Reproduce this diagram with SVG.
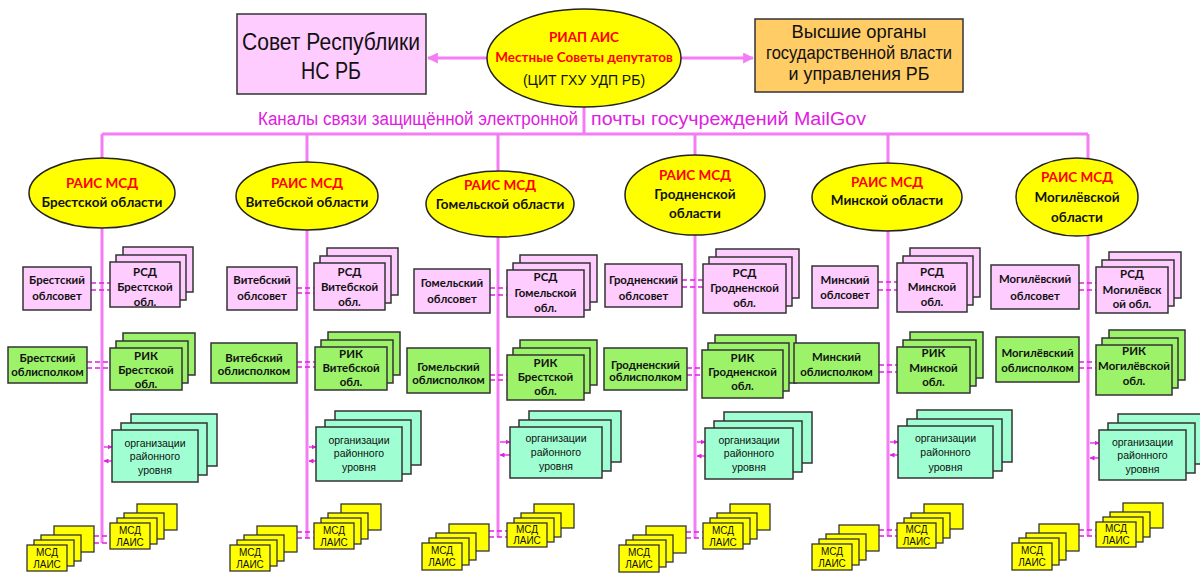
<svg xmlns="http://www.w3.org/2000/svg" width="1200" height="574" viewBox="0 0 1200 574">
<defs>
<style>
.ln{stroke:#F47CF4;stroke-width:3;fill:none}
.cn{stroke:#E020E0;stroke-width:1.6;stroke-dasharray:5 3;fill:none}
.ar{stroke:#E020E0;stroke-width:1.3;fill:none;marker-end:url(#sa)}
.al{stroke:#F47CF4;stroke-width:3;fill:none;marker-end:url(#ba)}
.el{fill:#FFFF00;stroke:#222;stroke-width:1.5}
.pk rect{fill:#FFCCFF;stroke:#333;stroke-width:1.5}
.gr rect{fill:#9CF36A;stroke:#333;stroke-width:1.5}
.aq rect{fill:#9FFFD2;stroke:#333;stroke-width:1.5}
.ye rect{fill:#FFFF00;stroke:#333;stroke-width:1.3}
.or{fill:#FFCC66;stroke:#333;stroke-width:1.5}
text{text-anchor:middle;fill:#111}
.eh{font-family:Lato,"Liberation Sans",sans-serif;font-weight:bold;font-size:13.5px;fill:#FF0000}
.eb{font-family:Lato,"Liberation Sans",sans-serif;font-weight:bold;font-size:13.5px}
.bt{font-family:Lato,"Liberation Sans",sans-serif;font-weight:bold;font-size:11.4px}
.ot{font-family:"Liberation Sans",Arial,sans-serif;font-size:10.5px}
.mt{font-family:"Liberation Sans",Arial,sans-serif;font-size:10px}
.big{font-family:"Liberation Sans",Arial,sans-serif;font-size:24px}
.mid{font-family:"Liberation Sans",Arial,sans-serif;font-size:19px}
.ch{font-family:"Liberation Sans",Arial,sans-serif;font-size:18px;fill:#E020E0}
</style>
<marker id="ba" viewBox="0 0 10 10" refX="9" refY="5" markerWidth="11" markerHeight="11" markerUnits="userSpaceOnUse" orient="auto"><path d="M0,0 L10,5 L0,10 z" fill="#F47CF4"/></marker>
<marker id="sa" viewBox="0 0 10 10" refX="9" refY="5" markerWidth="5" markerHeight="5" markerUnits="userSpaceOnUse" orient="auto"><path d="M0,0 L10,5 L0,10 z" fill="#E020E0"/></marker>
</defs>
<rect width="1200" height="574" fill="#FFFFFF"/>

<g id="connectors">
<line class="al" x1="487" y1="58" x2="428" y2="58"/>
<line class="al" x1="681" y1="58" x2="753" y2="58"/>
<line class="ln" x1="584" y1="106" x2="584" y2="134"/>
<line class="ln" x1="102" y1="134" x2="1088" y2="134"/>
<line class="ln" x1="102" y1="134" x2="102" y2="543"/>
<line class="ln" x1="307" y1="134" x2="307" y2="538"/>
<line class="ln" x1="498" y1="134" x2="498" y2="537"/>
<line class="ln" x1="695" y1="134" x2="695" y2="538"/>
<line class="ln" x1="888" y1="134" x2="888" y2="536"/>
<line class="ln" x1="1088" y1="134" x2="1088" y2="536"/>
<!-- Brest -->
<path class="cn" d="M91,283H110M91,290H110M87,362H110M87,368H110M94,536H110M94,543H110"/>
<line class="ar" x1="104" y1="447" x2="112" y2="447"/><line class="ar" x1="112" y1="461" x2="104" y2="461"/>
<!-- Vitebsk -->
<path class="cn" d="M297,288H314M297,293H314M297,362H315M297,367H315M297,532H314M297,538H314"/>
<line class="ar" x1="309" y1="447" x2="316" y2="447"/><line class="ar" x1="316" y1="461" x2="309" y2="461"/>
<!-- Gomel -->
<path class="cn" d="M490,288H507M490,295H507M490,375H507M490,380H507M489,531H507M489,537H507"/>
<line class="ar" x1="500" y1="442" x2="510" y2="442"/><line class="ar" x1="510" y1="455" x2="500" y2="455"/>
<!-- Grodno -->
<path class="cn" d="M682,280H703M682,287H703M687,368H702M687,375H702M686,532H703M686,538H703"/>
<line class="ar" x1="697" y1="442" x2="705" y2="442"/><line class="ar" x1="705" y1="456" x2="697" y2="456"/>
<!-- Minsk -->
<path class="cn" d="M878,282H897M878,290H897M879,365H897M879,372H897M879,530H897M879,536H897"/>
<line class="ar" x1="890" y1="442" x2="898" y2="442"/><line class="ar" x1="898" y1="455" x2="890" y2="455"/>
<!-- Mogilev -->
<path class="cn" d="M1079,283H1096M1079,290H1096M1079,362H1096M1079,368H1096M1079,530H1096M1079,536H1096"/>
<line class="ar" x1="1090" y1="443" x2="1099" y2="443"/><line class="ar" x1="1099" y1="458" x2="1090" y2="458"/>
</g>

<text class="ch" x="578" y="125" style="text-anchor:end" textLength="320" lengthAdjust="spacingAndGlyphs">Каналы связи защищённой электронной</text>
<text class="ch" x="591" y="125" style="text-anchor:start" textLength="275" lengthAdjust="spacingAndGlyphs">почты госучреждений MailGov</text>

<g id="sovet">
<rect x="237" y="14" width="189" height="80" fill="#FFCCFF" stroke="#333" stroke-width="1.5"/>
<text class="big" x="331" y="50" textLength="178" lengthAdjust="spacingAndGlyphs">Совет Республики</text>
<text class="big" x="331" y="79" textLength="60" lengthAdjust="spacingAndGlyphs">НС РБ</text>
</g>
<g id="riap">
<ellipse class="el" cx="584" cy="58" rx="97" ry="49"/>
<text class="eh" x="584" y="42">РИАП  АИС</text>
<text class="eh" x="584" y="62">Местные Советы депутатов</text>
<text x="584" y="85" style="font-family:'Liberation Sans',Arial,sans-serif;font-size:14px">(ЦИТ ГХУ УДП РБ)</text>
</g>
<g id="vysshie">
<rect class="or" x="755" y="19" width="208" height="73"/>
<text class="mid" x="859" y="38" textLength="135" lengthAdjust="spacingAndGlyphs">Высшие органы</text>
<text class="mid" x="859" y="59" textLength="186" lengthAdjust="spacingAndGlyphs">государственной власти</text>
<text class="mid" x="859" y="80" textLength="141" lengthAdjust="spacingAndGlyphs">и управления РБ</text>
</g>

<!-- ===== Brest ===== -->
<g id="rais-brest"><ellipse class="el" cx="102" cy="193" rx="73" ry="35"/><text class="eh" x="102" y="188">РАИС МСД</text><text class="eb" x="102" y="207">Брестской области</text></g>
<g id="oblsovet-brest" class="pk"><rect x="23" y="267" width="68" height="43"/><text class="bt" x="57" y="284">Брестский</text><text class="bt" x="57" y="300">облсовет</text></g>
<g id="rsd-brest" class="pk"><rect x="123" y="247" width="70" height="45"/><rect x="116" y="255" width="70" height="45"/><rect x="110" y="262" width="70" height="45"/><text class="bt" x="145" y="276">РСД</text><text class="bt" x="145" y="291">Брестской</text><text class="bt" x="145" y="306">обл.</text></g>
<g id="oblisp-brest" class="gr"><rect x="8" y="347" width="79" height="36"/><text class="bt" x="47.5" y="362">Брестский</text><text class="bt" x="47.5" y="376">облисполком</text></g>
<g id="rik-brest" class="gr"><rect x="123" y="333" width="72" height="42"/><rect x="116" y="341" width="72" height="42"/><rect x="110" y="348" width="72" height="42"/><text class="bt" x="146" y="360">РИК</text><text class="bt" x="146" y="374">Брестской</text><text class="bt" x="146" y="388">обл.</text></g>
<g id="org-brest" class="aq"><rect x="131" y="414" width="86" height="52"/><rect x="121" y="423" width="86" height="52"/><rect x="112" y="430" width="86" height="52"/><text class="ot" x="155" y="447">организации</text><text class="ot" x="155" y="460">районного</text><text class="ot" x="155" y="474">уровня</text></g>
<g id="msd-r-brest" class="ye"><rect x="137" y="504" width="40" height="26"/><rect x="124" y="513" width="40" height="26"/><rect x="117" y="518" width="40" height="26"/><rect x="110" y="523" width="40" height="26"/><text class="mt" x="130" y="534">МСД</text><text class="mt" x="130" y="546">ЛАИС</text></g>
<g id="msd-l-brest" class="ye"><rect x="54" y="526" width="40" height="26"/><rect x="41" y="535" width="40" height="26"/><rect x="34" y="540" width="40" height="26"/><rect x="27" y="545" width="40" height="26"/><text class="mt" x="47" y="556">МСД</text><text class="mt" x="47" y="568">ЛАИС</text></g>

<!-- ===== Vitebsk ===== -->
<g id="rais-vitebsk"><ellipse class="el" cx="307" cy="196" rx="71" ry="34"/><text class="eh" x="307" y="188">РАИС МСД</text><text class="eb" x="307" y="207">Витебской области</text></g>
<g id="oblsovet-vitebsk" class="pk"><rect x="227" y="267" width="70" height="43"/><text class="bt" x="262" y="284">Витебский</text><text class="bt" x="262" y="300">облсовет</text></g>
<g id="rsd-vitebsk" class="pk"><rect x="327" y="248" width="71" height="47"/><rect x="320" y="256" width="71" height="47"/><rect x="314" y="263" width="71" height="47"/><text class="bt" x="349.5" y="276">РСД</text><text class="bt" x="349.5" y="291">Витебской</text><text class="bt" x="349.5" y="306">обл.</text></g>
<g id="oblisp-vitebsk" class="gr"><rect x="211" y="343" width="86" height="40"/><text class="bt" x="254" y="362">Витебский</text><text class="bt" x="254" y="375">облисполком</text></g>
<g id="rik-vitebsk" class="gr"><rect x="328" y="332" width="72" height="43"/><rect x="321" y="340" width="72" height="43"/><rect x="315" y="347" width="72" height="43"/><text class="bt" x="351" y="358">РИК</text><text class="bt" x="351" y="372">Витебской</text><text class="bt" x="351" y="386">обл.</text></g>
<g id="org-vitebsk" class="aq"><rect x="335" y="411" width="86" height="54"/><rect x="325" y="420" width="86" height="54"/><rect x="316" y="427" width="86" height="54"/><text class="ot" x="359" y="444">организации</text><text class="ot" x="359" y="457">районного</text><text class="ot" x="359" y="471">уровня</text></g>
<g id="msd-r-vitebsk" class="ye"><rect x="341" y="504" width="40" height="26"/><rect x="328" y="513" width="40" height="26"/><rect x="321" y="518" width="40" height="26"/><rect x="314" y="523" width="40" height="26"/><text class="mt" x="334" y="534">МСД</text><text class="mt" x="334" y="546">ЛАИС</text></g>
<g id="msd-l-vitebsk" class="ye"><rect x="257" y="526" width="40" height="26"/><rect x="244" y="535" width="40" height="26"/><rect x="237" y="540" width="40" height="26"/><rect x="230" y="545" width="40" height="26"/><text class="mt" x="250" y="556">МСД</text><text class="mt" x="250" y="568">ЛАИС</text></g>

<!-- ===== Gomel ===== -->
<g id="rais-gomel"><ellipse class="el" cx="500" cy="204" rx="74" ry="33"/><text class="eh" x="500" y="190">РАИС МСД</text><text class="eb" x="500" y="209">Гомельской области</text></g>
<g id="oblsovet-gomel" class="pk"><rect x="414" y="269" width="76" height="44"/><text class="bt" x="452" y="287">Гомельский</text><text class="bt" x="452" y="303">облсовет</text></g>
<g id="rsd-gomel" class="pk"><rect x="520" y="255" width="77" height="47"/><rect x="513" y="263" width="77" height="47"/><rect x="507" y="270" width="77" height="47"/><text class="bt" x="545.5" y="281">РСД</text><text class="bt" x="545.5" y="297">Гомельской</text><text class="bt" x="545.5" y="312">обл.</text></g>
<g id="oblisp-gomel" class="gr"><rect x="407" y="348" width="83" height="45"/><text class="bt" x="448.5" y="371">Гомельский</text><text class="bt" x="448.5" y="384">облисполком</text></g>
<g id="rik-gomel" class="gr"><rect x="520" y="340" width="77" height="45"/><rect x="513" y="348" width="77" height="45"/><rect x="507" y="355" width="77" height="45"/><text class="bt" x="545.5" y="367">РИК</text><text class="bt" x="545.5" y="381">Брестской</text><text class="bt" x="545.5" y="395">обл.</text></g>
<g id="org-gomel" class="aq"><rect x="529" y="411" width="92" height="51"/><rect x="519" y="420" width="92" height="51"/><rect x="510" y="427" width="92" height="51"/><text class="ot" x="556" y="442">организации</text><text class="ot" x="556" y="456">районного</text><text class="ot" x="556" y="470">уровня</text></g>
<g id="msd-r-gomel" class="ye"><rect x="534" y="504" width="40" height="24"/><rect x="521" y="513" width="40" height="24"/><rect x="514" y="518" width="40" height="24"/><rect x="507" y="523" width="40" height="24"/><text class="mt" x="527" y="533">МСД</text><text class="mt" x="527" y="544">ЛАИС</text></g>
<g id="msd-l-gomel" class="ye"><rect x="449" y="524" width="40" height="27"/><rect x="436" y="533" width="40" height="27"/><rect x="429" y="538" width="40" height="27"/><rect x="422" y="543" width="40" height="27"/><text class="mt" x="442" y="554">МСД</text><text class="mt" x="442" y="566">ЛАИС</text></g>

<!-- ===== Grodno ===== -->
<g id="rais-grodno"><ellipse class="el" cx="695" cy="195" rx="70" ry="40"/><text class="eh" x="695" y="180">РАИС МСД</text><text class="eb" x="695" y="199">Гродненской</text><text class="eb" x="695" y="218">области</text></g>
<g id="oblsovet-grodno" class="pk"><rect x="605" y="264" width="77" height="43"/><text class="bt" x="643.5" y="284">Гродненский</text><text class="bt" x="643.5" y="300">облсовет</text></g>
<g id="rsd-grodno" class="pk"><rect x="716" y="249" width="83" height="49"/><rect x="709" y="257" width="83" height="49"/><rect x="703" y="264" width="83" height="49"/><text class="bt" x="744.5" y="277">РСД</text><text class="bt" x="744.5" y="292">Гродненской</text><text class="bt" x="744.5" y="307">обл.</text></g>
<g id="oblisp-grodno" class="gr"><rect x="604" y="348" width="83" height="42"/><text class="bt" x="645.5" y="369">Гродненский</text><text class="bt" x="645.5" y="381">облисполком</text></g>
<g id="rik-grodno" class="gr"><rect x="715" y="335" width="81" height="48"/><rect x="708" y="343" width="81" height="48"/><rect x="702" y="350" width="81" height="48"/><text class="bt" x="742.5" y="362">РИК</text><text class="bt" x="742.5" y="376">Гродненской</text><text class="bt" x="742.5" y="390">обл.</text></g>
<g id="org-grodno" class="aq"><rect x="724" y="412" width="88" height="51"/><rect x="714" y="421" width="88" height="51"/><rect x="705" y="428" width="88" height="51"/><text class="ot" x="749" y="444">организации</text><text class="ot" x="749" y="457">районного</text><text class="ot" x="749" y="471">уровня</text></g>
<g id="msd-r-grodno" class="ye"><rect x="730" y="504" width="40" height="26"/><rect x="717" y="513" width="40" height="26"/><rect x="710" y="518" width="40" height="26"/><rect x="703" y="523" width="40" height="26"/><text class="mt" x="723" y="534">МСД</text><text class="mt" x="723" y="546">ЛАИС</text></g>
<g id="msd-l-grodno" class="ye"><rect x="646" y="526" width="40" height="27"/><rect x="633" y="535" width="40" height="27"/><rect x="626" y="540" width="40" height="27"/><rect x="619" y="545" width="40" height="27"/><text class="mt" x="639" y="556">МСД</text><text class="mt" x="639" y="568">ЛАИС</text></g>

<!-- ===== Minsk ===== -->
<g id="rais-minsk"><ellipse class="el" cx="887" cy="197" rx="75" ry="34"/><text class="eh" x="887" y="187">РАИС МСД</text><text class="eb" x="887" y="205">Минской области</text></g>
<g id="oblsovet-minsk" class="pk"><rect x="812" y="266" width="66" height="42"/><text class="bt" x="845" y="284">Минский</text><text class="bt" x="845" y="299">облсовет</text></g>
<g id="rsd-minsk" class="pk"><rect x="910" y="248" width="70" height="49"/><rect x="903" y="256" width="70" height="49"/><rect x="897" y="263" width="70" height="49"/><text class="bt" x="932" y="276">РСД</text><text class="bt" x="932" y="291">Минской</text><text class="bt" x="932" y="306">обл.</text></g>
<g id="oblisp-minsk" class="gr"><rect x="794" y="343" width="85" height="40"/><text class="bt" x="836.5" y="361">Минский</text><text class="bt" x="836.5" y="376">облисполком</text></g>
<g id="rik-minsk" class="gr"><rect x="910" y="332" width="73" height="46"/><rect x="903" y="340" width="73" height="46"/><rect x="897" y="347" width="73" height="46"/><text class="bt" x="933.5" y="357">РИК</text><text class="bt" x="933.5" y="372">Минской</text><text class="bt" x="933.5" y="386">обл.</text></g>
<g id="org-minsk" class="aq"><rect x="917" y="410" width="95" height="52"/><rect x="907" y="419" width="95" height="52"/><rect x="898" y="426" width="95" height="52"/><text class="ot" x="945.5" y="442">организации</text><text class="ot" x="945.5" y="456">районного</text><text class="ot" x="945.5" y="471">уровня</text></g>
<g id="msd-r-minsk" class="ye"><rect x="924" y="504" width="39" height="25"/><rect x="911" y="513" width="39" height="25"/><rect x="904" y="518" width="39" height="25"/><rect x="897" y="523" width="39" height="25"/><text class="mt" x="916.5" y="533">МСД</text><text class="mt" x="916.5" y="545">ЛАИС</text></g>
<g id="msd-l-minsk" class="ye"><rect x="839" y="525" width="40" height="26"/><rect x="826" y="534" width="40" height="26"/><rect x="819" y="539" width="40" height="26"/><rect x="812" y="544" width="40" height="26"/><text class="mt" x="832" y="555">МСД</text><text class="mt" x="832" y="567">ЛАИС</text></g>

<!-- ===== Mogilev ===== -->
<g id="rais-mogilev"><ellipse class="el" cx="1077" cy="197" rx="61" ry="39"/><text class="eh" x="1077" y="182">РАИС МСД</text><text class="eb" x="1077" y="202">Могилёвской</text><text class="eb" x="1077" y="222">области</text></g>
<g id="oblsovet-mogilev" class="pk"><rect x="991" y="265" width="88" height="44"/><text class="bt" x="1035" y="283">Могилёвский</text><text class="bt" x="1035" y="300">облсовет</text></g>
<g id="rsd-mogilev" class="pk"><rect x="1109" y="252" width="72" height="46"/><rect x="1102" y="260" width="72" height="46"/><rect x="1096" y="267" width="72" height="46"/><text class="bt" x="1132" y="278">РСД</text><text class="bt" x="1132" y="294">Могилёвск</text><text class="bt" x="1132" y="308">ой обл.</text></g>
<g id="oblisp-mogilev" class="gr"><rect x="996" y="337" width="83" height="45"/><text class="bt" x="1037.5" y="357">Могилёвский</text><text class="bt" x="1037.5" y="372">облисполком</text></g>
<g id="rik-mogilev" class="gr"><rect x="1109" y="330" width="76" height="50"/><rect x="1102" y="338" width="76" height="50"/><rect x="1096" y="345" width="76" height="50"/><text class="bt" x="1134" y="355">РИК</text><text class="bt" x="1134" y="370">Могилёвской</text><text class="bt" x="1134" y="385">обл.</text></g>
<g id="org-mogilev" class="aq"><rect x="1118" y="414" width="87" height="50"/><rect x="1108" y="423" width="87" height="50"/><rect x="1099" y="430" width="87" height="50"/><text class="ot" x="1142.5" y="446">организации</text><text class="ot" x="1142.5" y="459">районного</text><text class="ot" x="1142.5" y="473">уровня</text></g>
<g id="msd-r-mogilev" class="ye"><rect x="1123" y="503" width="40" height="25"/><rect x="1110" y="512" width="40" height="25"/><rect x="1103" y="517" width="40" height="25"/><rect x="1096" y="522" width="40" height="25"/><text class="mt" x="1116" y="532">МСД</text><text class="mt" x="1116" y="544">ЛАИС</text></g>
<g id="msd-l-mogilev" class="ye"><rect x="1039" y="524" width="40" height="27"/><rect x="1026" y="533" width="40" height="27"/><rect x="1019" y="538" width="40" height="27"/><rect x="1012" y="543" width="40" height="27"/><text class="mt" x="1032" y="554">МСД</text><text class="mt" x="1032" y="566">ЛАИС</text></g>
</svg>
